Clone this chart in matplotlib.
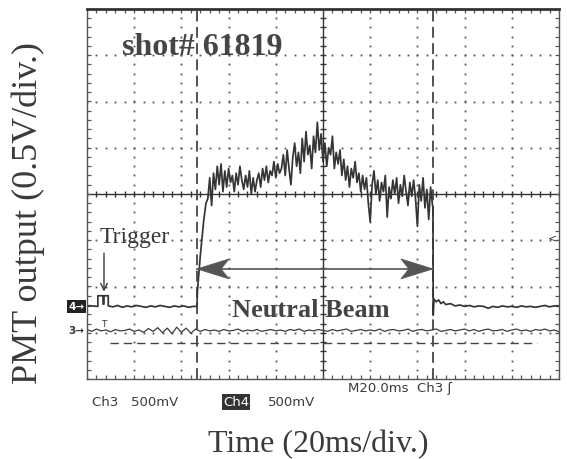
import numpy as np
import matplotlib
matplotlib.use("Agg")
import matplotlib.pyplot as plt
from matplotlib.patches import Polygon

# oscilloscope screen: x in divisions (20 ms/div), y in divisions (0.5 V/div)
ch4_pre_t = [0.0, 0.1, 0.23, 0.23, 0.34, 0.34, 0.36, 0.36, 0.45, 0.45,
             0.55, 0.65, 0.75, 0.85, 0.95, 1.05, 1.15, 1.25, 1.35, 1.45,
             1.55, 1.65, 1.75, 1.85, 1.95, 2.05, 2.15, 2.25]
ch4_pre_v = [-2.43, -2.42, -2.43, -2.20, -2.20, -2.38, -2.38, -2.20, -2.20, -2.42,
             -2.44, -2.41, -2.45, -2.42, -2.44, -2.41, -2.43, -2.45, -2.42, -2.44,
             -2.41, -2.43, -2.45, -2.42, -2.44, -2.42, -2.45, -2.43]

rise_t = [2.33, 2.34, 2.36, 2.40, 2.47, 2.52]
rise_v = [-2.43, -2.10, -1.84, -1.34, -0.60, -0.20]

# noisy beam-on part, sampled every 0.04 div from 2.56
beam_t0, beam_dt = 2.56, 0.04
beam_v = [-0.10, 0.35, -0.25, 0.45, 0.10, 0.60, 0.20, 0.65, 0.05, 0.50,
          0.15, 0.55, 0.25, 0.40, 0.05, 0.45, 0.20, 0.60, 0.30, 0.10,
          0.40, 0.15, 0.50, 0.00, 0.35, 0.05, 0.30, 0.45, 0.15, 0.55,
          0.30, 0.60, 0.25, 0.50, 0.40, 0.70, 0.35, 0.65, 0.45, 0.55,
          0.85, 0.40, 0.95, 0.55, 0.20, 0.80, 1.10, 0.60, 0.90, 0.45,
          1.20, 0.70, 1.35, 0.85, 1.05, 0.55, 1.25, 0.90, 1.55, 0.95,
          1.30, 0.70, 1.10, 0.60, 1.00, 0.85, 1.25, 0.55, 0.90, 0.65,
          0.95, 0.40, 0.75, 0.30, 0.60, 0.15, 0.55, 0.35, 0.70, 0.25,
          0.45, 0.05, 0.40, 0.10, 0.35, -0.20, -0.60, 0.20, 0.50, 0.00,
          0.30, -0.15, 0.25, 0.05, 0.40, -0.50, 0.15, -0.10, 0.30, 0.00,
          0.35, -0.20, 0.20, -0.05, 0.40, 0.05, -0.25, 0.25, -0.05, 0.30,
          -0.10, -0.70, 0.20, -0.15, 0.35, -0.30, 0.10, -0.55, 0.15, -0.25]

fall_t = [7.33, 7.335, 7.35, 7.40, 7.45, 7.50, 7.55, 7.60, 7.70, 7.80,
          7.90, 8.00, 8.10, 8.20, 8.30, 8.40, 8.50, 8.60, 8.70, 8.80,
          8.90, 9.00, 9.10, 9.20, 9.30, 9.40, 9.50, 9.60, 9.70, 9.80,
          9.90, 10.0]
fall_v = [-0.30, -2.62, -2.27, -2.33, -2.29, -2.37, -2.33, -2.39, -2.37, -2.42,
          -2.40, -2.43, -2.41, -2.44, -2.42, -2.43, -2.47, -2.43, -2.45, -2.42,
          -2.44, -2.43, -2.45, -2.42, -2.44, -2.43, -2.45, -2.43, -2.41, -2.44,
          -2.42, -2.43]

# channel 3 (trigger channel), every 0.1 div
ch3_v = [-2.93, -2.97, -2.92, -2.96, -2.94, -2.98, -2.93, -2.96, -2.95, -2.92, -2.97,
         -2.94, -2.99, -2.91, -2.97, -2.89, -3.00, -2.90, -3.02, -2.88, -2.99,
         -2.90, -3.01, -2.92, -2.97, -2.93, -2.96, -2.94, -2.97, -2.93, -2.96,
         -2.95, -2.92, -2.97, -2.94, -2.96, -2.93, -2.97, -2.95, -2.93, -2.96,
         -2.94, -2.97, -2.93, -2.95, -2.92, -2.97, -2.94, -2.96, -2.93, -2.95,
         -2.97, -2.93, -2.96, -2.94, -2.92, -2.97, -2.95, -2.93, -2.96, -2.94,
         -2.96, -2.92, -2.97, -2.94, -2.93, -2.96, -2.95, -2.92, -2.97, -2.94,
         -2.93, -2.96, -2.94, -2.92, -2.97, -2.95, -2.93, -2.96, -2.94, -2.92,
         -2.96, -2.93, -2.97, -2.94, -2.92, -2.96, -2.95, -2.93, -2.97, -2.94,
         -2.92, -2.96, -2.94, -2.97, -2.93, -2.95, -2.92, -2.96, -2.94, -2.98]

cursor_t = [2.33, 7.33]
ref_level = -3.22
ref_span = [0.49, 9.53]
arrow_level = -1.62
ch4_ground = -2.43
ch3_ground = -2.95

serif = "Liberation Serif"
ink = "#3a3a3a"

fig = plt.figure(figsize=(5.67, 4.60), dpi=100)
W, H = 567, 460
ax = fig.add_axes([87 / W, 1 - 380 / H, 472 / W, 370 / H])
ax.set_xlim(0, 10)
ax.set_ylim(-4, 4)
ax.set_xticks([])
ax.set_yticks([])
for s in ax.spines.values():
    s.set_color("#555555")
    s.set_linewidth(1.0)
ax.spines["top"].set_linewidth(2.0)
ax.spines["top"].set_color("#333333")

# dotted graticule
fine_x = np.arange(0, 10.001, 0.2)
fine_y = np.arange(-4, 4.001, 0.2)
for yy in [-3, -2, -1, 1, 2, 3]:
    ax.plot(fine_x, np.full_like(fine_x, yy), ls="none", marker="s",
            ms=1.3, mew=0, color="#555555")
for xx in [1, 2, 3, 4, 6, 7, 8, 9]:
    ax.plot(np.full_like(fine_y, xx), fine_y, ls="none", marker="s",
            ms=1.3, mew=0, color="#555555")

# centre cross-hair with minor ticks
ax.axhline(0, color="#333333", lw=1.0)
ax.axvline(5, color="#333333", lw=1.0)
ax.plot(fine_x, np.zeros_like(fine_x), ls="none", marker="|", ms=4.5, mew=1.0, color="#333333")
ax.plot(np.full_like(fine_y, 5), fine_y, ls="none", marker="_", ms=4.5, mew=1.0, color="#333333")
# edge ticks
ax.plot(fine_x, np.full_like(fine_x, -4), ls="none", marker="|", ms=6, mew=0.9, color="#555555")
ax.plot(fine_x, np.full_like(fine_x, 4), ls="none", marker="|", ms=6, mew=0.9, color="#555555")
ax.plot(np.zeros_like(fine_y), fine_y, ls="none", marker="_", ms=6, mew=0.9, color="#555555")
ax.plot(np.full_like(fine_y, 10), fine_y, ls="none", marker="_", ms=6, mew=0.9, color="#555555")

# cursors and reference line
for ct in cursor_t:
    ax.axvline(ct, color="#444444", lw=1.3, dashes=(6, 3))
ax.plot(ref_span, [ref_level, ref_level], color="#444444", lw=1.0, dashes=(6, 3.6))

# traces
beam_t = beam_t0 + beam_dt * np.arange(len(beam_v))
ch4_t = np.concatenate([ch4_pre_t, rise_t, beam_t, fall_t])
ch4_v = np.concatenate([ch4_pre_v, rise_v, beam_v, fall_v])
ax.plot(ch4_t, ch4_v, color="#353535", lw=1.25)
ch3_t = np.linspace(0, 10, len(ch3_v))
ax.plot(ch3_t, ch3_v, color="#3c3c3c", lw=0.9)

# double arrow between cursors
ax.plot(cursor_t, [arrow_level, arrow_level], color="#555555", lw=1.2)
L, N, hw = 0.68, 0.51, 0.216
for tip, d in [(cursor_t[0], 1), (cursor_t[1], -1)]:
    pts = [(tip, arrow_level), (tip + d * L, arrow_level + hw),
           (tip + d * N, arrow_level), (tip + d * L, arrow_level - hw)]
    ax.add_patch(Polygon(pts, closed=True, fc="#555555", ec="#555555", lw=0.5))

# trigger position marker on ch3
ax.text(0.35, ch3_ground + 0.05, "T", ha="center", va="bottom", fontsize=6.5,
        color=ink, family="DejaVu Sans")
# trigger level marker at right
ax.text(9.97, -0.93, "<", ha="right", va="center", fontsize=8, color=ink)

# channel ground markers
ax.text(-0.05, ch4_ground, "4\u2192", ha="right", va="center", fontsize=7.5,
        color="white", weight="bold", clip_on=False,
        bbox=dict(boxstyle="square,pad=0.15", fc="#222222", ec="none"))
ax.text(-0.05, ch3_ground, "3\u2192", ha="right", va="center", fontsize=7.5,
        color=ink, weight="bold", clip_on=False)

# annotations
fig.text(122 / W, 1 - 55 / H, "shot# 61819", family=serif, weight="bold",
         fontsize=23, color="#444444", ha="left", va="baseline")
fig.text(100 / W, 1 - 243 / H, "Trigger", family=serif, fontsize=17,
         color=ink, ha="left", va="baseline")
ax.annotate("", xy=(0.36, -2.17), xytext=(0.36, -1.22),
            arrowprops=dict(arrowstyle="->", color=ink, lw=1.0,
                            mutation_scale=12))
fig.text(232 / W, 1 - 317 / H, "Neutral Beam", family=serif, weight="bold",
         fontsize=19, color="#444444", ha="left", va="baseline")

# scope readouts
fig.text(92 / W, 1 - 403 / H, "Ch3   500mV", fontsize=9.5, color=ink,
         ha="left", va="center", family="DejaVu Sans")
fig.text(223 / W, 1 - 403 / H, "Ch4", fontsize=9.5, color="white",
         ha="left", va="center", family="DejaVu Sans",
         bbox=dict(boxstyle="square,pad=0.1", fc="#333333", ec="none"))
fig.text(268 / W, 1 - 403 / H, "500mV", fontsize=9.5, color=ink,
         ha="left", va="center", family="DejaVu Sans")
fig.text(348 / W, 1 - 389 / H, "M20.0ms  Ch3 \u0283", fontsize=9.5, color=ink,
         ha="left", va="center", family="DejaVu Sans")

fig.text(318 / W, 1 - 452 / H, "Time (20ms/div.)", family=serif, fontsize=23,
         color=ink, ha="center", va="baseline")
fig.text(37 / W, 1 - 213 / H, "PMT output (0.5V/div.)", family=serif,
         fontsize=26, color=ink, ha="center", va="baseline", rotation=90,
         rotation_mode="anchor")

fig.savefig("out.png", dpi=100, facecolor="white")
